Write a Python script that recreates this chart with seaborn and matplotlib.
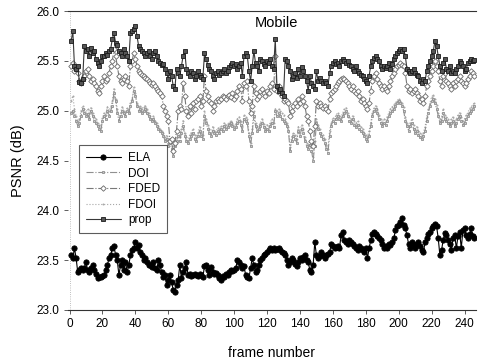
import numpy as np
import pandas as pd
import matplotlib
matplotlib.use("Agg")
import matplotlib.pyplot as plt
import seaborn as sns

# PSNR per frame (dB), "Mobile" sequence, frames 1..246
ela = [
    23.55, 23.52, 23.62, 23.52, 23.38, 23.40, 23.42, 23.40, 23.42, 23.48,
    23.40, 23.38, 23.42, 23.45, 23.40, 23.36, 23.32, 23.33, 23.33, 23.34,
    23.35, 23.40, 23.45, 23.52, 23.55, 23.62, 23.64, 23.55, 23.50, 23.35,
    23.45, 23.50, 23.40, 23.48, 23.38, 23.45, 23.55, 23.60, 23.62, 23.68,
    23.62, 23.65, 23.58, 23.55, 23.50, 23.52, 23.48, 23.45, 23.45, 23.43,
    23.48, 23.42, 23.40, 23.50, 23.45, 23.38, 23.33, 23.35, 23.25, 23.30,
    23.35, 23.28, 23.20, 23.18, 23.25, 23.30, 23.45, 23.32, 23.38, 23.42,
    23.48, 23.35, 23.36, 23.34, 23.35, 23.36, 23.35, 23.34, 23.36, 23.35,
    23.33, 23.44, 23.45, 23.40, 23.35, 23.43, 23.38, 23.36, 23.37, 23.35,
    23.32, 23.30, 23.34, 23.33, 23.36, 23.35, 23.38, 23.40, 23.39, 23.40,
    23.42, 23.50, 23.48, 23.45, 23.42, 23.44, 23.35, 23.33, 23.32, 23.42,
    23.52, 23.45, 23.38, 23.40, 23.45, 23.50, 23.52, 23.55, 23.56, 23.58,
    23.60, 23.62, 23.60, 23.62, 23.60, 23.61, 23.62, 23.60, 23.58, 23.57,
    23.55, 23.50, 23.45, 23.48, 23.52, 23.50, 23.46, 23.44, 23.48, 23.52,
    23.50, 23.53, 23.55, 23.50, 23.48, 23.40, 23.38, 23.45, 23.68, 23.55,
    23.52, 23.54, 23.58, 23.55, 23.52, 23.55, 23.56, 23.58, 23.66, 23.64,
    23.62, 23.63, 23.64, 23.62, 23.75, 23.78, 23.70, 23.68, 23.66, 23.70,
    23.68, 23.66, 23.64, 23.62, 23.60, 23.64, 23.62, 23.60, 23.58, 23.62,
    23.52, 23.62, 23.70, 23.76, 23.78, 23.76, 23.74, 23.72, 23.70, 23.66,
    23.62, 23.64, 23.62, 23.66, 23.65, 23.68, 23.72, 23.80, 23.84, 23.85,
    23.88, 23.92, 23.85, 23.82, 23.75, 23.66, 23.62, 23.68, 23.65, 23.62,
    23.66, 23.68, 23.64, 23.60, 23.58, 23.68, 23.72, 23.76, 23.78, 23.82,
    23.84, 23.86, 23.84, 23.72, 23.55, 23.60, 23.70, 23.77, 23.75, 23.70,
    23.66, 23.60, 23.72, 23.75, 23.62, 23.74, 23.78, 23.62, 23.80, 23.82,
    23.75, 23.72, 23.76, 23.82, 23.74, 23.72,
]

doi = [
    24.98, 25.00, 24.95, 24.90, 24.85, 24.88, 24.95, 25.02, 24.98, 24.95,
    24.97, 24.92, 25.00, 24.95, 24.90, 24.88, 24.85, 24.82, 24.80, 24.90,
    24.95, 24.92, 25.00, 24.95, 25.00, 25.05, 25.18, 25.10, 24.98, 24.90,
    24.95, 25.00, 24.98, 24.95, 25.00, 24.98, 25.05, 25.10, 25.20, 25.15,
    25.05, 25.00, 25.02, 24.98, 25.00, 25.02, 24.98, 24.95, 24.92, 24.90,
    24.92, 24.88, 24.85, 24.82, 24.80, 24.78, 24.75, 24.70, 24.72, 24.65,
    24.68, 24.62, 24.55, 24.65, 24.70, 24.75, 24.70, 24.78, 24.85, 24.75,
    24.70, 24.68, 24.72, 24.75, 24.78, 24.72, 24.70, 24.75, 24.80, 24.75,
    24.72, 24.95, 24.88, 24.82, 24.78, 24.75, 24.80, 24.78, 24.76, 24.80,
    24.78, 24.82, 24.80, 24.85, 24.82, 24.84, 24.86, 24.88, 24.85, 24.82,
    24.84, 24.88, 24.90, 24.86, 24.80, 24.92, 24.90, 24.88, 24.75, 24.65,
    24.78, 24.95, 24.85, 24.80, 24.82, 24.85, 24.88, 24.84, 24.80, 24.82,
    24.80, 24.85, 24.88, 24.84, 25.00, 24.95, 24.98, 24.95, 24.92, 24.90,
    24.88, 24.85, 24.80, 24.60, 24.70, 24.75, 24.72, 24.68, 24.80, 24.75,
    24.82, 24.78, 24.70, 24.65, 24.62, 24.66, 24.60, 24.50, 24.65, 24.88,
    24.82, 24.78, 24.75, 24.72, 24.68, 24.62, 24.58, 24.75, 24.85, 24.90,
    24.88, 24.92, 24.95, 24.92, 24.90, 24.95, 24.98, 25.00, 24.95, 24.90,
    24.88, 24.92, 24.86, 24.84, 24.86, 24.82, 24.80, 24.78, 24.75, 24.72,
    24.70, 24.75, 24.85, 24.95, 25.00, 25.02, 24.98, 24.92, 24.88, 24.85,
    24.88, 24.86, 24.90, 24.95, 24.98, 25.00, 25.02, 25.05, 25.08, 25.10,
    25.08, 25.05, 25.00, 24.90, 24.85, 24.80, 24.85, 24.88, 24.82, 24.78,
    24.80, 24.76, 24.74, 24.72, 24.75, 24.80, 24.90, 24.98, 25.05, 25.10,
    25.12, 25.08, 25.02, 24.95, 24.88, 24.90, 24.98, 24.92, 24.90, 24.88,
    24.85, 24.88, 24.90, 24.85, 24.88, 24.92, 24.95, 24.90, 24.86, 24.88,
    24.92, 24.95, 24.98, 25.00, 25.02, 25.05,
]

fded = [
    25.45, 25.48, 25.40, 25.42, 25.38, 25.30, 25.28, 25.32, 25.35, 25.40,
    25.42, 25.35, 25.30, 25.32, 25.28, 25.25, 25.20, 25.18, 25.25, 25.30,
    25.35, 25.30, 25.32, 25.38, 25.45, 25.50, 25.62, 25.55, 25.45, 25.35,
    25.30, 25.28, 25.32, 25.35, 25.30, 25.25, 25.45, 25.50, 25.58, 25.52,
    25.45, 25.40, 25.38, 25.36, 25.35, 25.33, 25.32, 25.30, 25.28, 25.26,
    25.28, 25.25, 25.22, 25.20, 25.18, 25.15, 25.05, 25.00, 24.95, 24.90,
    24.70, 24.72, 24.60, 24.68, 24.80, 25.00, 25.05, 25.02, 25.28, 25.15,
    25.00, 24.95, 25.05, 24.98, 25.08, 25.02, 25.10, 25.12, 25.15, 25.05,
    25.10, 25.35, 25.20, 25.15, 25.10, 25.08, 25.00, 25.05, 25.10, 25.12,
    25.10, 25.12, 25.15, 25.14, 25.12, 25.15, 25.16, 25.14, 25.18, 25.12,
    25.15, 25.20, 25.25, 25.22, 25.10, 25.28, 25.25, 25.30, 25.10, 24.98,
    25.05, 25.25, 25.18, 25.12, 25.15, 25.20, 25.22, 25.18, 25.15, 25.20,
    25.18, 25.25, 25.28, 25.22, 25.55, 25.20, 25.25, 25.18, 25.15, 25.10,
    25.12, 25.10, 25.08, 24.95, 25.00, 25.05, 25.08, 25.05, 25.12, 25.08,
    25.15, 25.10, 25.05, 24.95, 24.90, 24.80, 24.70, 24.65, 24.85, 25.10,
    25.05, 25.08, 25.05, 25.03, 25.05, 25.02, 25.00, 25.12, 25.18, 25.20,
    25.22, 25.25, 25.28, 25.30, 25.32, 25.33, 25.32, 25.30, 25.28, 25.25,
    25.22, 25.25, 25.20, 25.18, 25.20, 25.15, 25.10, 25.12, 25.08, 25.05,
    25.02, 25.08, 25.20, 25.30, 25.35, 25.38, 25.32, 25.28, 25.25, 25.22,
    25.25, 25.22, 25.20, 25.25, 25.30, 25.35, 25.38, 25.42, 25.45, 25.46,
    25.48, 25.46, 25.45, 25.38, 25.25, 25.20, 25.22, 25.18, 25.20, 25.22,
    25.18, 25.15, 25.10, 25.12, 25.08, 25.15, 25.25, 25.30, 25.35, 25.40,
    25.45, 25.50, 25.45, 25.40, 25.30, 25.25, 25.35, 25.38, 25.30, 25.28,
    25.25, 25.22, 25.28, 25.25, 25.30, 25.32, 25.35, 25.30, 25.28, 25.25,
    25.28, 25.32, 25.35, 25.40, 25.38, 25.35,
]

fdoi = [
    25.10, 25.15, 25.02, 24.95, 24.90, 24.92, 25.00, 25.05, 25.02, 24.98,
    25.02, 24.98, 25.03, 24.98, 24.94, 24.92, 24.88, 24.86, 24.84, 24.93,
    24.98, 24.96, 25.04, 25.00, 25.04, 25.10, 25.22, 25.12, 25.02, 24.94,
    24.98, 25.04, 25.00, 24.98, 25.03, 25.00, 25.08, 25.12, 25.24, 25.18,
    25.08, 25.04, 25.05, 25.02, 25.04, 25.05, 25.02, 24.98, 24.95, 24.92,
    24.95, 24.90, 24.88, 24.85, 24.82, 24.80, 24.78, 24.74, 24.75, 24.68,
    24.72, 24.66, 24.58, 24.68, 24.74, 24.80, 24.74, 24.82, 24.90, 24.78,
    24.74, 24.70, 24.76, 24.78, 24.82, 24.76, 24.74, 24.78, 24.84, 24.78,
    24.76, 25.00, 24.92, 24.86, 24.82, 24.78, 24.84, 24.80, 24.79, 24.83,
    24.82, 24.85, 24.83, 24.88, 24.86, 24.87, 24.88, 24.90, 24.88, 24.85,
    24.87, 24.92, 24.94, 24.90, 24.84, 24.96, 24.94, 24.92, 24.78, 24.68,
    24.82, 25.00, 24.88, 24.84, 24.85, 24.88, 24.92, 24.87, 24.84, 24.86,
    24.84, 24.88, 24.92, 24.88, 25.02, 25.00, 25.02, 25.00, 24.98, 24.96,
    24.92, 24.88, 24.84, 24.64, 24.74, 24.78, 24.76, 24.72, 24.84, 24.78,
    24.86, 24.82, 24.74, 24.68, 24.66, 24.70, 24.64, 24.54, 24.70, 24.92,
    24.86, 24.82, 24.78, 24.76, 24.72, 24.66, 24.62, 24.80, 24.88, 24.93,
    24.92, 24.96, 24.98, 24.95, 24.94, 24.98, 25.02, 25.03, 24.98, 24.94,
    24.92, 24.95, 24.90, 24.88, 24.90, 24.86, 24.84, 24.82, 24.78, 24.76,
    24.74, 24.80, 24.88, 24.98, 25.03, 25.05, 25.02, 24.96, 24.92, 24.88,
    24.92, 24.90, 24.94, 24.98, 25.02, 25.04, 25.06, 25.08, 25.10, 25.12,
    25.10, 25.08, 25.04, 24.94, 24.88, 24.84, 24.88, 24.92, 24.86, 24.82,
    24.84, 24.80, 24.78, 24.76, 24.78, 24.84, 24.94, 25.02, 25.08, 25.14,
    25.16, 25.12, 25.06, 24.98, 24.92, 24.94, 25.02, 24.96, 24.94, 24.92,
    24.88, 24.92, 24.94, 24.88, 24.92, 24.96, 24.98, 24.94, 24.90, 24.92,
    24.96, 24.98, 25.02, 25.04, 25.06, 25.08,
]

prop = [
    25.70, 25.80, 25.45, 25.42, 25.45, 25.29, 25.28, 25.32, 25.65, 25.60,
    25.62, 25.55, 25.63, 25.58, 25.60, 25.52, 25.48, 25.45, 25.50, 25.55,
    25.55, 25.58, 25.56, 25.60, 25.62, 25.72, 25.78, 25.68, 25.66, 25.60,
    25.58, 25.55, 25.62, 25.58, 25.55, 25.50, 25.78, 25.80, 25.82, 25.85,
    25.75, 25.65, 25.62, 25.60, 25.58, 25.55, 25.58, 25.60, 25.55, 25.52,
    25.58, 25.60, 25.55, 25.50, 25.48, 25.46, 25.47, 25.42, 25.38, 25.32,
    25.40, 25.35, 25.25, 25.22, 25.42, 25.38, 25.35, 25.45, 25.55, 25.60,
    25.42, 25.38, 25.35, 25.40, 25.38, 25.32, 25.35, 25.40, 25.36, 25.34,
    25.32, 25.58, 25.52, 25.46, 25.42, 25.40, 25.35, 25.32, 25.38, 25.40,
    25.36, 25.38, 25.40, 25.42, 25.38, 25.40, 25.44, 25.46, 25.48, 25.45,
    25.47, 25.42, 25.45, 25.48, 25.35, 25.55, 25.58, 25.55, 25.40, 25.30,
    25.45, 25.60, 25.48, 25.45, 25.40, 25.52, 25.50, 25.47, 25.45, 25.50,
    25.48, 25.52, 25.45, 25.42, 25.72, 25.25, 25.20, 25.22, 25.18, 25.15,
    25.52, 25.50, 25.45, 25.40, 25.32, 25.35, 25.38, 25.33, 25.42, 25.35,
    25.44, 25.40, 25.35, 25.30, 25.20, 25.35, 25.28, 25.25, 25.22, 25.40,
    25.30, 25.33, 25.30, 25.28, 25.30, 25.28, 25.25, 25.38, 25.45, 25.48,
    25.50, 25.47, 25.48, 25.45, 25.50, 25.52, 25.50, 25.48, 25.50, 25.46,
    25.45, 25.42, 25.40, 25.45, 25.40, 25.38, 25.36, 25.35, 25.32, 25.30,
    25.28, 25.35, 25.45, 25.50, 25.53, 25.55, 25.52, 25.50, 25.45, 25.42,
    25.45, 25.43, 25.45, 25.48, 25.42, 25.47, 25.52, 25.55, 25.58, 25.60,
    25.62, 25.60, 25.62, 25.55, 25.42, 25.40, 25.38, 25.40, 25.42, 25.38,
    25.36, 25.35, 25.30, 25.28, 25.32, 25.30, 25.40, 25.45, 25.50, 25.55,
    25.60, 25.70, 25.65, 25.55, 25.45, 25.40, 25.48, 25.52, 25.42, 25.40,
    25.45, 25.38, 25.40, 25.38, 25.42, 25.45, 25.50, 25.48, 25.45, 25.40,
    25.42, 25.48, 25.50, 25.52, 25.50, 25.51,
]

frames = np.arange(1, len(ela) + 1)
x_ticks = list(range(0, 241, 20))
y_ticks = [23.0, 23.5, 24.0, 24.5, 25.0, 25.5, 26.0]

sns.set_style("white")
plt.rcParams['font.family'] = ['Liberation Sans', 'DejaVu Sans']
plt.rcParams['text.color'] = 'black'
plt.rcParams['axes.labelcolor'] = 'black'
plt.rcParams['xtick.color'] = 'black'
plt.rcParams['ytick.color'] = 'black'

fig = plt.figure(figsize=(4.78, 3.6), dpi=100)
ax = fig.add_axes([0.142, 0.139, 0.854, 0.830])

# name, values, line color, linestyle, marker, marker face, marker edge, size, zorder
styles = [
    ("ELA", ela, "black", "-", "o", "black", "black", 3.8, 6),
    ("DOI", doi, "#909090", "-.", "s", "#c8c8c8", "#909090", 2.0, 3),
    ("FDED", fded, "#787878", "-.", "D", "white", "#686868", 2.8, 4),
    ("FDOI", fdoi, "#a8a8a8", ":", ".", "#a8a8a8", "#a8a8a8", 1.6, 2),
    ("prop", prop, "#383838", "-", "s", "#555555", "#1a1a1a", 3.4, 5),
]

for name, vals, col, ls, mk, mfc, mec, ms, z in styles:
    df = pd.DataFrame({"frame": frames, "psnr": vals})
    sns.lineplot(data=df, x="frame", y="psnr", ax=ax, color=col, linestyle=ls,
                 linewidth=0.8, marker=mk, markersize=ms, markerfacecolor=mfc,
                 markeredgecolor=mec, markeredgewidth=0.6, label=name, zorder=z)

ax.set_xlim(-1, 247)
ax.set_ylim(23.0, 26.0)
ax.set_xticks(x_ticks)
ax.set_yticks(y_ticks)
ax.set_yticklabels([f"{t:.1f}" for t in y_ticks])
ax.tick_params(axis='both', labelsize=8.5, length=3, width=0.6, color="#444444",
               labelcolor="black", direction='out', bottom=True, left=True, pad=3)

for s in ["left", "right"]:
    ax.spines[s].set_visible(False)
for s in ["top", "bottom"]:
    ax.spines[s].set_linewidth(0.8)
    ax.spines[s].set_color("#333333")
ax.axvline(0, color="#aaaaaa", lw=0.6, ls=":", zorder=0)

ax.set_xlabel("frame number", fontsize=10, labelpad=11)
ax.set_ylabel("PSNR (dB)", fontsize=10.5, labelpad=8)
ax.text(126, 25.88, "Mobile", fontsize=10.5, ha="center", va="center")

leg = ax.legend(loc="upper left", bbox_to_anchor=(0.012, 0.572), fontsize=8.5,
                frameon=True, fancybox=False, edgecolor="#333333",
                borderpad=0.6, labelspacing=0.3, handlelength=3.0,
                handletextpad=0.6)
leg.get_frame().set_linewidth(0.8)

fig.savefig("out.png", dpi=100)
